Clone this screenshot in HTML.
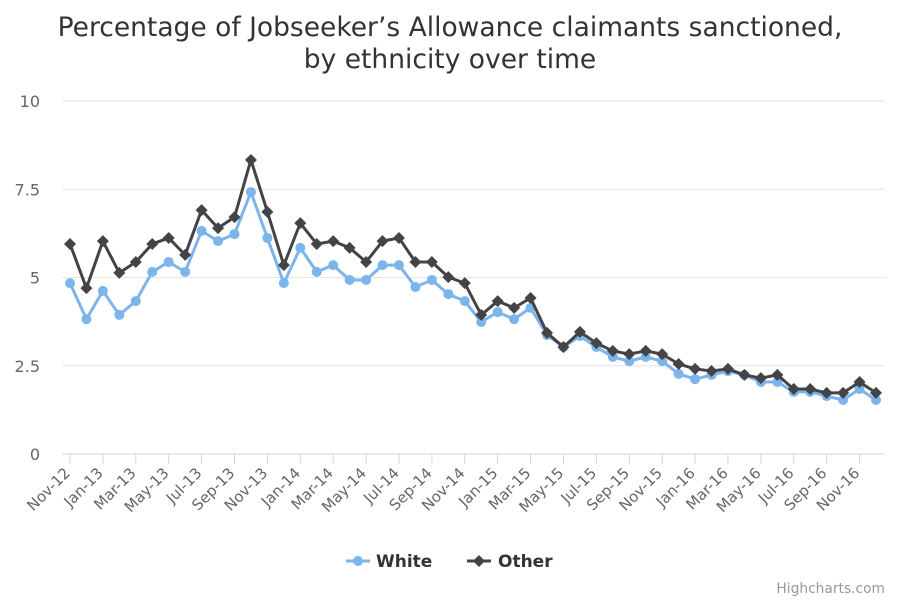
<!DOCTYPE html>
<html><head><meta charset="utf-8"><style>
body{margin:0;background:#fff;font-family:"Liberation Sans","DejaVu Sans",sans-serif}
svg text{font-family:"DejaVu Sans","Liberation Sans",sans-serif}
</style></head><body>
<svg id="c" width="900" height="600" xmlns="http://www.w3.org/2000/svg">
<text x="450" y="36" text-anchor="middle" font-size="26.5" fill="#333">Percentage of Jobseeker’s Allowance claimants sanctioned,</text>
<text x="450" y="68" text-anchor="middle" font-size="26.5" fill="#333">by ethnicity over time</text>
<g id="grid"></g><g id="xax"></g><g id="series"></g>
<g>
<g>
<line x1="346" y1="561" x2="370" y2="561" stroke="#7cb5ec" stroke-width="3"/><circle cx="358" cy="561" r="5" fill="#7cb5ec"/>
<text x="376" y="567" font-size="17" font-weight="bold" fill="#333">White</text></g>
<g>
<line x1="467" y1="561" x2="491" y2="561" stroke="#434348" stroke-width="3"/><path d="M479 555 L485 561 L479 567 L473 561Z" fill="#434348"/>
<text x="498" y="567" font-size="17" font-weight="bold" fill="#333">Other</text></g>
</g>
<text x="885" y="593" text-anchor="end" font-size="13.8" fill="#999">Highcharts.com</text>
</svg>
<script>
const categories=["Nov-12","Dec-12","Jan-13","Feb-13","Mar-13","Apr-13","May-13","Jun-13","Jul-13","Aug-13","Sep-13","Oct-13","Nov-13","Dec-13","Jan-14","Feb-14","Mar-14","Apr-14","May-14","Jun-14","Jul-14","Aug-14","Sep-14","Oct-14","Nov-14","Dec-14","Jan-15","Feb-15","Mar-15","Apr-15","May-15","Jun-15","Jul-15","Aug-15","Sep-15","Oct-15","Nov-15","Dec-15","Jan-16","Feb-16","Mar-16","Apr-16","May-16","Jun-16","Jul-16","Aug-16","Sep-16","Oct-16","Nov-16","Dec-16"];
const whiteValues=[4.84,3.82,4.62,3.94,4.33,5.16,5.44,5.16,6.32,6.03,6.23,7.42,6.12,4.84,5.84,5.16,5.35,4.93,4.93,5.35,5.35,4.73,4.93,4.53,4.33,3.74,4.02,3.82,4.14,3.37,3.03,3.34,3.03,2.75,2.63,2.75,2.63,2.27,2.12,2.24,2.35,2.24,2.04,2.04,1.76,1.76,1.64,1.53,1.84,1.53];
const otherValues=[5.95,4.70,6.03,5.13,5.44,5.95,6.12,5.64,6.91,6.40,6.71,8.33,6.86,5.35,6.54,5.95,6.03,5.84,5.44,6.03,6.12,5.44,5.44,5.01,4.84,3.94,4.33,4.14,4.42,3.43,3.03,3.46,3.14,2.92,2.83,2.92,2.83,2.55,2.41,2.35,2.41,2.24,2.15,2.24,1.84,1.84,1.73,1.73,2.04,1.73];
const yTicks=[0,2.5,5,7.5,10];
const yTickLabels=["0","2.5","5","7.5","10"];
const NS="http://www.w3.org/2000/svg";
const L=62,R=885,T=101,B=454,x0=70,x1=876;
const xs=i=>x0+(x1-x0)*i/(categories.length-1);
const ys=v=>B-(B-T)*v/10;
function mk(t,a,p){const e=document.createElementNS(NS,t);for(const k in a)e.setAttribute(k,a[k]);p.appendChild(e);return e;}
const grid=document.getElementById('grid');
yTicks.forEach((v,i)=>{
 const l=mk('line',{x1:L,x2:R,y1:ys(v),y2:ys(v),stroke:v===0?'#ccd6eb':'#e6e6e6','stroke-width':1},grid);
 
 
 const t=mk('text',{x:40,y:ys(v)+6,'text-anchor':'end','font-size':16,fill:'#666'},grid);
 t.textContent=yTickLabels[i];
 
 
});
const xax=document.getElementById('xax');
categories.forEach((c,i)=>{
 if(i%2)return;
 const x=xs(i);
 const tk=mk('line',{x1:x,x2:x,y1:B,y2:B+10,stroke:'#ccd6eb'},xax);
 
 
 const t=mk('text',{x:x+1,y:B+20,'text-anchor':'end','font-size':15,fill:'#666',transform:`rotate(-45 ${x+1} ${B+20})`},xax);
 t.textContent=c;
 
 
});
const sg=document.getElementById('series');
function series(vals,color,name,marker){
 const g=mk('g',{},sg);
 
 
 const p=mk('path',{d:vals.map((v,i)=>(i?'L':'M')+xs(i)+' '+ys(v)).join(' '),fill:'none',stroke:color,'stroke-width':3,'stroke-linejoin':'round'},g);
 
 
 vals.forEach((v,i)=>{
  const x=xs(i),y=ys(v);
  const m=marker==='circle'?mk('circle',{cx:x,cy:y,r:5,fill:color},g):mk('path',{d:`M${x} ${y-6}L${x+6} ${y}L${x} ${y+6}L${x-6} ${y}Z`,fill:color},g);
  
  
 });
}
series(whiteValues,'#7cb5ec','white','circle');
series(otherValues,'#434348','other','diamond');
</script>
</body></html>
